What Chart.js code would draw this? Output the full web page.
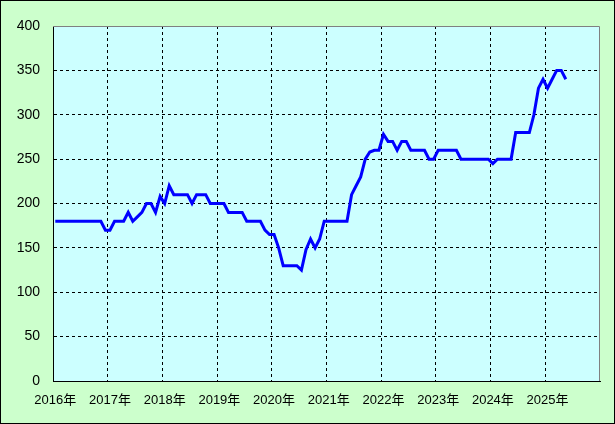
<!DOCTYPE html>
<html>
<head>
<meta charset="utf-8">
<script src="https://cdn.jsdelivr.net/npm/chart.js@4"></script>
<style>
  body { margin: 0; background: #fff; }
  #wrap { width: 615px; height: 424px; }
</style>
</head>
<body>
<div id="wrap"><canvas id="priceChart" width="615" height="424"></canvas></div>
<script>
// monthly categories, Jan 2016 – Dec 2025
const years = [2016, 2017, 2018, 2019, 2020, 2021, 2022, 2023, 2024, 2025];
const monthNums = [1, 2, 3, 4, 5, 6, 7, 8, 9, 10, 11, 12];
const labels = years.flatMap(y => monthNums.map(m => `${y}-${m}`));

// values, Jan 2016 – May 2025
const prices = [
  180, 180, 180, 180, 180, 180, 180, 180, 180, 180, 180, 170,
  170, 180, 180, 180, 190, 180, 185, 190, 200, 200, 190, 208,
  200, 220, 210, 210, 210, 210, 200, 210, 210, 210, 200, 200,
  200, 200, 190, 190, 190, 190, 180, 180, 180, 180, 170, 165,
  165, 150, 130, 130, 130, 130, 125, 148, 160, 150, 160, 180,
  180, 180, 180, 180, 180, 210, 220, 230, 250, 258, 260, 260,
  278, 270, 270, 260, 270, 270, 260, 260, 260, 260, 250, 250,
  260, 260, 260, 260, 260, 250, 250, 250, 250, 250, 250, 250,
  245, 250, 250, 250, 250, 280, 280, 280, 280, 300, 330, 340,
  330, 340, 350, 350, 340
];

const yTicks = { min: 0, max: 400, step: 50 };

const fontFamily = '"Liberation Sans", "Noto Sans CJK JP", sans-serif';

// green page, cyan plot area, grey top/right edge
const framePlugin = {
  id: 'frame',
  beforeDraw(chart) {
    const { ctx, chartArea: a } = chart;
    ctx.save();
    ctx.fillStyle = '#ccffcc';
    ctx.fillRect(0, 0, chart.width, chart.height);
    ctx.strokeStyle = '#000';
    ctx.lineWidth = 1;
    ctx.strokeRect(0.5, 0.5, chart.width - 1, chart.height - 1);
    ctx.fillStyle = '#ccffff';
    ctx.fillRect(a.left, a.top, a.right - a.left, a.bottom - a.top);
    ctx.restore();
  },
  afterDraw(chart) {
    const { ctx, chartArea: a } = chart;
    ctx.save();
    ctx.strokeStyle = '#808080';
    ctx.lineWidth = 1;
    ctx.beginPath();
    ctx.moveTo(a.left, a.top + 0.5);
    ctx.lineTo(a.right - 0.5, a.top + 0.5);
    ctx.lineTo(a.right - 0.5, a.bottom);
    ctx.stroke();
    ctx.restore();
  }
};

new Chart(document.getElementById('priceChart'), {
  type: 'line',
  data: {
    labels: labels,
    datasets: [{
      data: prices,
      borderColor: '#0000ff',
      borderWidth: 3,
      pointRadius: 0,
      tension: 0,
      fill: false
    }]
  },
  options: {
    responsive: false,
    animation: false,
    layout: { padding: { left: 0, top: 26, right: 15, bottom: 0 } },
    plugins: {
      legend: { display: false },
      tooltip: { enabled: false }
    },
    scales: {
      x: {
        type: 'category',
        offset: true,
        afterFit: s => { s.height = 43; },
        grid: {
          offset: true,
          drawTicks: false,
          lineWidth: 1,
          color: ctx => (ctx.index > 0 && ctx.index % 12 === 0) ? '#000' : 'rgba(0,0,0,0)'
        },
        border: { display: true, color: '#000', width: 1, dash: [3, 3] },
        ticks: {
          autoSkip: false,
          maxRotation: 0,
          minRotation: 0,
          padding: 12,
          color: '#000',
          font: { family: fontFamily, size: 13 },
          callback: (v, i) => i % 12 === 0 ? `${labels[i].split('-')[0]}年` : ''
        }
      },
      y: {
        min: yTicks.min,
        max: yTicks.max,
        afterFit: s => { s.width = 53; },
        grid: {
          drawTicks: false,
          lineWidth: 1,
          color: ctx => (ctx.tick && ctx.tick.value > yTicks.min && ctx.tick.value < yTicks.max) ? '#000' : 'rgba(0,0,0,0)'
        },
        border: { display: true, color: '#000', width: 1, dash: [3, 3] },
        ticks: {
          stepSize: yTicks.step,
          padding: 13,
          color: '#000',
          font: { family: fontFamily, size: 14 }
        }
      }
    }
  },
  plugins: [framePlugin]
});
</script>
</body>
</html>
